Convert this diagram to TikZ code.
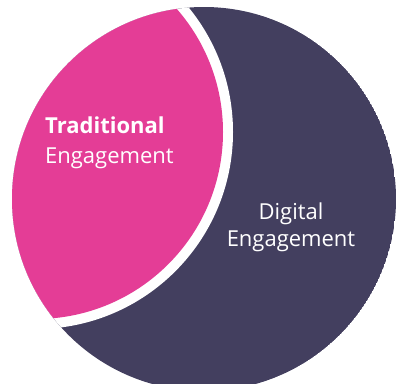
\documentclass[tikz,border=0pt]{standalone}
\usepackage{fontspec}
\setmainfont{Open Sans}
\usetikzlibrary{positioning}
\definecolor{engpink}{RGB}{228,61,150}
\definecolor{engnavy}{RGB}{67,63,95}

\begin{document}
\begin{tikzpicture}[x=1pt,y=-1pt,
    engtext/.style={text=white,inner sep=0pt}]
  \useasboundingbox (0,0) rectangle (398,383);
  % outer disc, cut by the offset circle into two parts with a white gap
  \begin{scope}
    \clip (204,199) circle[radius=192];
    \fill[engnavy] (204,199) circle[radius=192];
    \fill[white] (36,132) circle[radius=197];
    \fill[engpink] (36,132) circle[radius=187];
  \end{scope}
  % base anchor sits on the last line
  \node[engtext,anchor=base west,align=left,font=\fontsize{22}{30}\selectfont]
    (trad) at (45,163.3) {\textbf{Traditional}\\Engagement};
  \node[engtext,anchor=base,align=center,font=\fontsize{22}{27.5}\selectfont]
    (digi) at (291,246.7) {Digital\\Engagement};
\end{tikzpicture}
\end{document}
